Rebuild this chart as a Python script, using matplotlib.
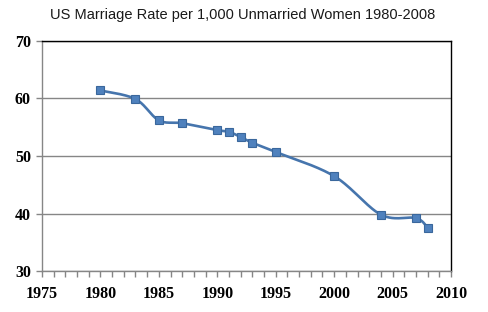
import numpy as np
import matplotlib
matplotlib.use("Agg")
import matplotlib.pyplot as plt
from matplotlib.ticker import MultipleLocator

years = [1980, 1983, 1985, 1987, 1990, 1991, 1992, 1993, 1995, 2000, 2004, 2007, 2008]
rates = [61.4, 59.9, 56.2, 55.7, 54.5, 54.2, 53.3, 52.3, 50.7, 46.5, 39.8, 39.2, 37.5]
title = "US Marriage Rate per 1,000 Unmarried Women 1980-2008"
x_ticks = [1975, 1980, 1985, 1990, 1995, 2000, 2005, 2010]
y_ticks = [30, 40, 50, 60, 70]


def smooth_curve(xs, ys, n=30):
    # Excel-style smoothed line: cubic Bezier with Catmull-Rom control points
    xs = np.asarray(xs, float)
    ys = np.asarray(ys, float)
    px, py = [], []
    m = len(xs)
    for i in range(m - 1):
        x0, y0 = (xs[i - 1], ys[i - 1]) if i > 0 else (xs[i], ys[i])
        x1, y1 = xs[i], ys[i]
        x2, y2 = xs[i + 1], ys[i + 1]
        x3, y3 = (xs[i + 2], ys[i + 2]) if i + 2 < m else (xs[i + 1], ys[i + 1])
        c1x, c1y = x1 + (x2 - x0) / 6, y1 + (y2 - y0) / 6
        c2x, c2y = x2 - (x3 - x1) / 6, y2 - (y3 - y1) / 6
        t = np.linspace(0, 1, n)
        bx = (1 - t) ** 3 * x1 + 3 * (1 - t) ** 2 * t * c1x + 3 * (1 - t) * t ** 2 * c2x + t ** 3 * x2
        by = (1 - t) ** 3 * y1 + 3 * (1 - t) ** 2 * t * c1y + 3 * (1 - t) * t ** 2 * c2y + t ** 3 * y2
        px.extend(bx)
        py.extend(by)
    return px, py


fig = plt.figure(figsize=(4.89, 3.12), dpi=100)
ax = fig.add_axes([0.0859, 0.1314, 0.8364, 0.7372])

sx, sy = smooth_curve(years, rates)
ax.plot(sx, sy, color="#4675AD", lw=1.9, zorder=3)
ax.plot(years, rates, linestyle="none", marker="s", markersize=6.3,
        markerfacecolor="#4F81BD", markeredgecolor="#3A679C", markeredgewidth=0.8, zorder=4)

ax.set_xlim(1975, 2010)
ax.set_ylim(30, 70)
ax.set_xticks(x_ticks)
ax.set_yticks(y_ticks)
ax.xaxis.set_minor_locator(MultipleLocator(1))
ax.yaxis.grid(True, color="#868686", lw=1)
ax.set_axisbelow(True)

for s in ["left", "bottom"]:
    ax.spines[s].set_color("#868686")
    ax.spines[s].set_linewidth(1)
for s in ["top", "right"]:
    ax.spines[s].set_color("black")
    ax.spines[s].set_linewidth(1)

ax.tick_params(axis="x", which="both", direction="out", length=4, color="#868686", width=1, pad=7)
ax.tick_params(axis="y", which="major", direction="out", length=4, color="#868686", width=1, pad=4)
ax.tick_params(axis="y", which="minor", length=0)

for lab in ax.get_xticklabels() + ax.get_yticklabels():
    lab.set_fontfamily("Liberation Serif")
    lab.set_fontweight("bold")
    lab.set_fontsize(11.5)

fig.text(0.497, 0.952, title, ha="center", va="center",
         fontfamily="Liberation Sans", fontsize=10.5, color="#1a1a1a")

fig.savefig("out.png", dpi=100)
